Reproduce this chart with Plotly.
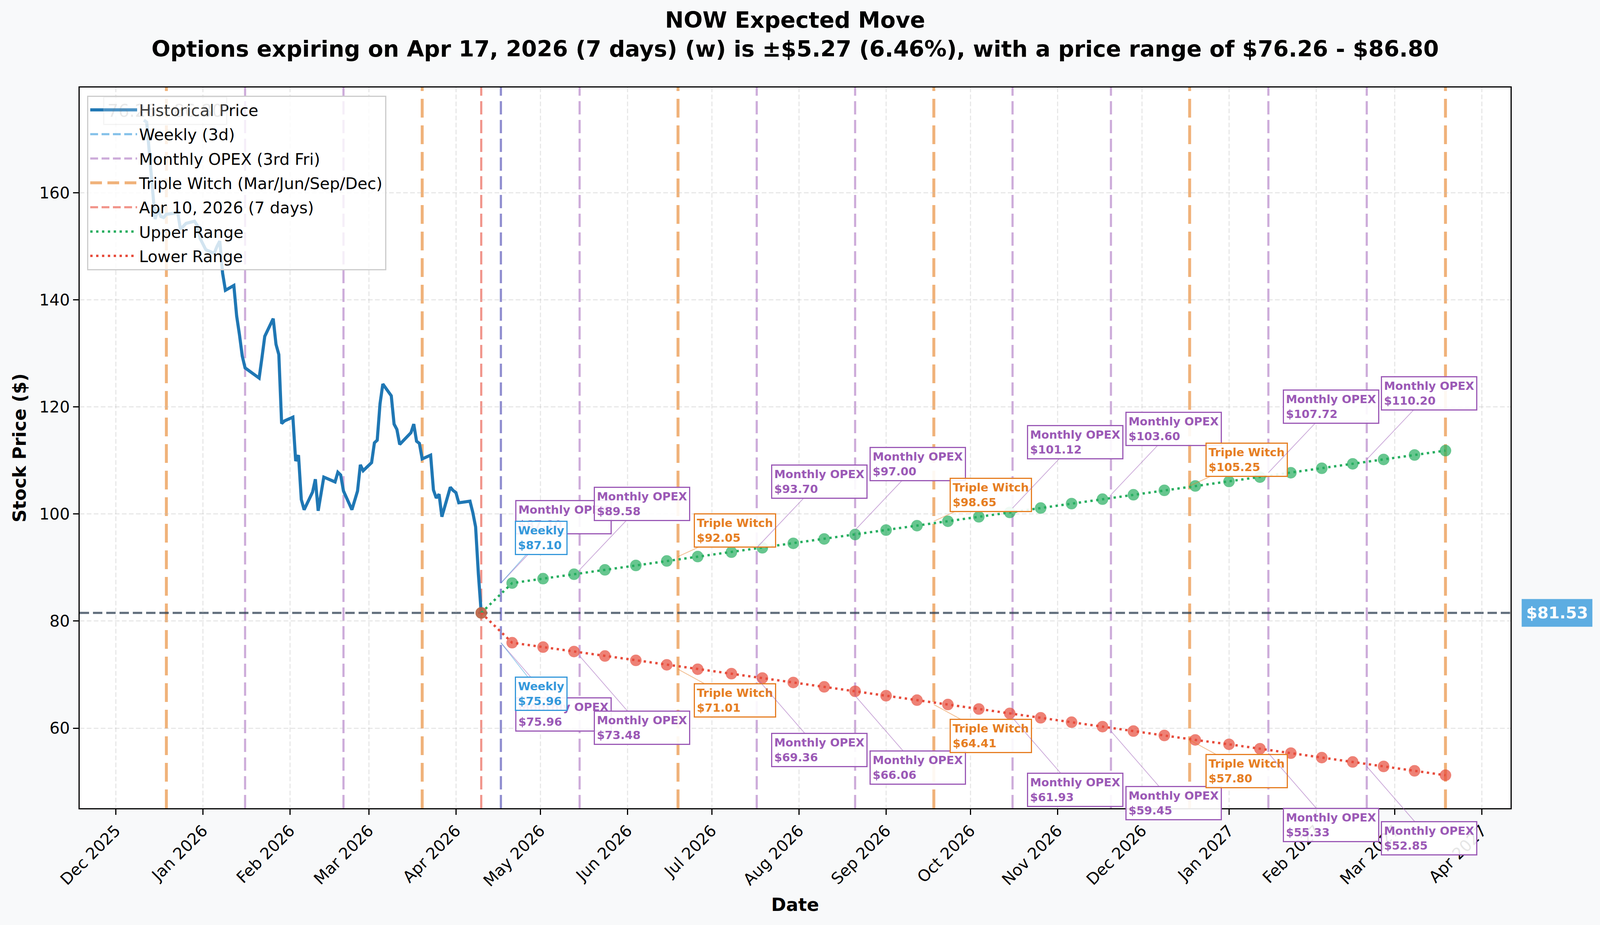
import pandas as pd
import plotly.graph_objects as go

# ---------------- data ----------------
ticker = "NOW"
current_price = 81.53
today = "2026-04-10"

hist_dates = [
    "2025-12-11", "2025-12-12", "2025-12-15", "2025-12-16", "2025-12-17", "2025-12-18",
    "2025-12-19", "2025-12-22", "2025-12-23", "2025-12-24", "2025-12-26", "2025-12-29",
    "2025-12-30", "2025-12-31", "2026-01-02", "2026-01-05", "2026-01-06", "2026-01-07",
    "2026-01-08", "2026-01-09", "2026-01-12", "2026-01-13", "2026-01-14", "2026-01-15",
    "2026-01-16", "2026-01-20", "2026-01-21", "2026-01-22", "2026-01-23", "2026-01-26",
    "2026-01-27", "2026-01-28", "2026-01-29", "2026-01-30", "2026-02-02", "2026-02-03",
    "2026-02-04", "2026-02-05", "2026-02-06", "2026-02-09", "2026-02-10", "2026-02-11",
    "2026-02-12", "2026-02-13", "2026-02-17", "2026-02-18", "2026-02-19", "2026-02-20",
    "2026-02-23", "2026-02-24", "2026-02-25", "2026-02-26", "2026-02-27", "2026-03-02",
    "2026-03-03", "2026-03-04", "2026-03-05", "2026-03-06", "2026-03-09", "2026-03-10",
    "2026-03-11", "2026-03-12", "2026-03-13", "2026-03-16", "2026-03-17", "2026-03-18",
    "2026-03-19", "2026-03-20", "2026-03-23", "2026-03-24", "2026-03-25", "2026-03-26",
    "2026-03-27", "2026-03-30", "2026-03-31", "2026-04-01", "2026-04-02", "2026-04-06",
    "2026-04-07", "2026-04-08", "2026-04-09", "2026-04-10",
]
hist_prices = [
    173.6, 173.2, 155.1, 157.0, 155.6, 155.4,
    156.0, 156.2, 156.5, 153.2, 154.3, 154.7,
    153.9, 151.5, 149.4, 148.7, 150.0, 151.0,
    145.0, 141.8, 142.7, 137.0, 133.5, 129.5,
    127.3, 125.8, 125.4, 129.2, 133.2, 136.5,
    131.7, 129.8, 116.9, 117.4, 118.1, 109.9,
    111.0, 102.7, 100.8, 104.1, 106.5, 100.6,
    104.0, 106.9, 106.0, 107.8, 107.3, 104.3,
    100.8, 102.8, 104.3, 109.2, 108.1, 109.6,
    113.3, 113.8, 120.6, 124.3, 122.1, 116.8,
    115.8, 113.0, 113.6, 115.2, 116.8, 113.6,
    113.2, 110.3, 111.0, 104.5, 103.0, 103.7,
    99.5, 105.0, 104.4, 104.0, 102.1, 102.4,
    100.3, 97.6, 88.7, 81.53,
]

range_dates = [
    "2026-04-10", "2026-04-21", "2026-05-02", "2026-05-13", "2026-05-24", "2026-06-04",
    "2026-06-15", "2026-06-26", "2026-07-08", "2026-07-19", "2026-07-30", "2026-08-10",
    "2026-08-21", "2026-09-01", "2026-09-12", "2026-09-23", "2026-10-04", "2026-10-15",
    "2026-10-26", "2026-11-06", "2026-11-17", "2026-11-28", "2026-12-09", "2026-12-20",
    "2027-01-01", "2027-01-12", "2027-01-23", "2027-02-03", "2027-02-14", "2027-02-25",
    "2027-03-08", "2027-03-19",
]
upper_range = [
    81.53, 87.10, 87.93, 88.75, 89.58, 90.40, 91.23, 92.05, 92.88, 93.70, 94.53, 95.35,
    96.18, 97.00, 97.83, 98.65, 99.48, 100.30, 101.12, 101.95, 102.78, 103.60, 104.43,
    105.25, 106.08, 106.90, 107.72, 108.55, 109.38, 110.20, 111.03, 111.85,
]
lower_range = [
    81.53, 75.96, 75.14, 74.31, 73.48, 72.66, 71.83, 71.01, 70.18, 69.36, 68.53, 67.71,
    66.88, 66.06, 65.23, 64.41, 63.58, 62.76, 61.93, 61.11, 60.28, 59.45, 58.63,
    57.80, 56.98, 56.15, 55.33, 54.50, 53.68, 52.85, 52.03, 51.20,
]

weekly_dates = ["2026-04-17"]
monthly_dates = [
    "2026-01-16", "2026-02-20", "2026-04-17", "2026-05-15", "2026-07-17", "2026-08-21",
    "2026-10-16", "2026-11-20", "2027-01-15", "2027-02-19",
]
triple_witch_dates = [
    "2025-12-19", "2026-03-20", "2026-06-19", "2026-09-18", "2026-12-18", "2027-03-19",
]

# expiry labels on the range paths
label_dates = [
    "2026-04-17", "2026-05-15", "2026-06-19", "2026-07-17", "2026-08-21", "2026-09-18",
    "2026-10-16", "2026-11-20", "2026-12-18", "2027-01-15", "2027-02-19", "2026-04-17",
]
label_kinds = [
    "Monthly OPEX", "Monthly OPEX", "Triple Witch", "Monthly OPEX", "Monthly OPEX",
    "Triple Witch", "Monthly OPEX", "Monthly OPEX", "Triple Witch", "Monthly OPEX",
    "Monthly OPEX", "Weekly",
]
label_upper = [87.10, 89.58, 92.05, 93.70, 97.00, 98.65, 101.12, 103.60, 105.25, 107.72, 110.20, 87.10]
label_lower = [75.96, 73.48, 71.01, 69.36, 66.06, 64.41, 61.93, 59.45, 57.80, 55.33, 52.85, 75.96]

title_text = ("NOW Expected Move<br>Options expiring on Apr 17, 2026 (7 days) (w) is "
              "±$5.27 (6.46%), with a price range of $76.26 - $86.80")

# ---------------- styling ----------------
FONT = "DejaVu Sans"
BLUE = "#1f77b4"
WEEKLY = "rgba(52,152,219,0.6)"
MONTHLY = "rgba(155,89,182,0.5)"
TRIPLE = "rgba(230,126,34,0.6)"
TODAY = "rgba(231,76,60,0.6)"
GREEN = "#27ae60"
RED = "#e74c3c"

kind_style = {
    # text color, connector color, (dx, dy_up, dy_down) in px
    "Monthly OPEX": ("#9b59b6", "rgba(155,89,182,0.5)", (160, -169, 184)),
    "Triple Witch": ("#e67e22", "rgba(230,126,34,0.5)", (146, -67, 80)),
    "Weekly": ("#3498db", "rgba(52,152,219,0.5)", (103, -116, 131)),
}

fig = go.Figure()

# historical
fig.add_trace(go.Scatter(
    x=pd.to_datetime(hist_dates), y=hist_prices, mode="lines",
    name="Historical Price", line=dict(color=BLUE, width=8),
    legendgroup="a", legendrank=1,
))

# legend entries for the vertical lines (the lines themselves are shapes)
for name, col, w, dash, grp, rank in [
    ("Weekly (3d)", WEEKLY, 5.5, "20px,9px", "b", 2),
    ("Monthly OPEX (3rd Fri)", MONTHLY, 5.5, "20px,9px", "c", 3),
    ("Triple Witch (Mar/Jun/Sep/Dec)", TRIPLE, 7.5, "30px,14px", "d", 4),
    ("Apr 10, 2026 (7 days)", TODAY, 5.5, "20px,9px", "e", 5),
]:
    fig.add_trace(go.Scatter(x=[None], y=[None], mode="lines", name=name,
                             line=dict(color=col, width=w, dash=dash),
                             legendgroup=grp, legendrank=rank))

# range markers (under the dotted lines)
for vals, col in [(upper_range, GREEN), (lower_range, RED)]:
    fig.add_trace(go.Scatter(
        x=pd.to_datetime(range_dates), y=vals, mode="markers", showlegend=False,
        marker=dict(size=27, color=col, opacity=0.7, line=dict(color=col, width=2.5)),
        hoverinfo="skip",
    ))
fig.add_trace(go.Scatter(
    x=pd.to_datetime(range_dates), y=upper_range, mode="lines", name="Upper Range",
    line=dict(color=GREEN, width=6, dash="6px,9px"), legendgroup="f", legendrank=6,
))
fig.add_trace(go.Scatter(
    x=pd.to_datetime(range_dates), y=lower_range, mode="lines", name="Lower Range",
    line=dict(color=RED, width=6, dash="6px,9px"), legendgroup="g", legendrank=7,
))

# vertical event lines
def vline(d, col, w, dash):
    fig.add_shape(type="line", xref="x", yref="paper", x0=d, x1=d, y0=0, y1=1,
                  line=dict(color=col, width=w, dash=dash), layer="between")

for d in triple_witch_dates:
    vline(d, TRIPLE, 7.5, "48px,20px")
for d in weekly_dates:
    vline(d, WEEKLY, 5.5, "34px,14px")
for d in monthly_dates:
    vline(d, MONTHLY, 5.5, "34px,14px")
vline(today, TODAY, 5.5, "34px,14px")

# current price line
fig.add_shape(type="line", xref="paper", yref="y", x0=0, x1=1,
              y0=current_price, y1=current_price,
              line=dict(color="rgba(44,62,80,0.75)", width=5.5, dash="24px,10px"),
              layer="between")

# faint range box behind the legend
fig.add_annotation(xref="paper", yref="paper", x=0.0163, y=0.9875,
                   xanchor="left", yanchor="top", showarrow=False,
                   text="76.26 - 86.80",
                   font=dict(family=FONT, size=44, color="rgba(120,120,120,0.18)"),
                   bgcolor="rgba(255,255,255,0.2)", bordercolor="rgba(200,200,200,0.2)",
                   borderwidth=3, borderpad=8)

# expiry labels
for d, kind, up, lo in zip(label_dates, label_kinds, label_upper, label_lower):
    tcol, acol, (dx, dyu, dyd) = kind_style[kind]
    for val, dy in [(up, dyu), (lo, dyd)]:
        fig.add_annotation(
            x=pd.to_datetime(d), y=val, xref="x", yref="y",
            text=f"{kind}<br>${val:.2f}", align="left",
            showarrow=True, arrowhead=0, arrowwidth=2, arrowcolor=acol,
            ax=dx, ay=dy, standoff=0,
            font=dict(family=FONT, size=29, color=tcol, weight="bold"),
            bgcolor="rgba(255,255,255,0.9)", bordercolor=tcol,
            borderwidth=3, borderpad=5,
        )

# current price tag on the right
fig.add_annotation(xref="paper", yref="y", x=1, y=current_price,
                   xanchor="left", yanchor="middle", xshift=28, showarrow=False,
                   text=f"${current_price:.2f}",
                   font=dict(family=FONT, size=41, color="white", weight="bold"),
                   bgcolor="#5dade2", borderpad=11)

fig.update_layout(
    template="none",
    autosize=True,
    paper_bgcolor="#f8f9fa", plot_bgcolor="white",
    margin=dict(l=204, r=229, t=224, b=299, autoexpand=False),
    title=dict(text=title_text, x=0.5, xref="paper", xanchor="center",
               y=1 - 71 / 2368, yref="container", yanchor="middle",
               font=dict(family=FONT, size=57, color="black", weight="bold")),
    font=dict(family=FONT, color="black"),
    showlegend=True,
    legend=dict(x=0.0052, y=0.9886, xanchor="left", yanchor="top",
                bgcolor="rgba(255,255,255,0.8)", bordercolor="#cccccc", borderwidth=3,
                font=dict(family=FONT, size=41, color="black"),
                traceorder="grouped", tracegroupgap=6, itemwidth=120),
    xaxis=dict(
        type="date", range=["2025-11-18 03:55", "2027-04-11 03:36"],
        tick0="2025-12-01", dtick="M1", tickformat="%b %Y", tickangle=-45,
        tickfont=dict(family=FONT, size=41), ticks="outside", ticklen=14, tickwidth=3,
        tickcolor="black",
        showgrid=True, gridcolor="rgba(190,190,190,0.35)", gridwidth=3, griddash="12px,6px",
        showline=True, linecolor="black", linewidth=3, mirror=True, zeroline=False,
        automargin=False,
        title=dict(text="Date", standoff=22,
                   font=dict(family=FONT, size=46, weight="bold")),
    ),
    yaxis=dict(
        range=[45.04, 179.69], tick0=60, dtick=20,
        tickfont=dict(family=FONT, size=41), ticks="outside", ticklen=14, tickwidth=3,
        tickcolor="black",
        showgrid=True, gridcolor="rgba(190,190,190,0.35)", gridwidth=3, griddash="12px,6px",
        showline=True, linecolor="black", linewidth=3, mirror=True, zeroline=False,
        automargin=False,
        title=dict(text="Stock Price ($)", standoff=20,
                   font=dict(family=FONT, size=46, weight="bold")),
    ),
)

fig.write_html(
    "out.html",
    config={"displayModeBar": False, "responsive": True},
    default_width="100vw", default_height="100vh",
    post_script=("document.body.style.margin='0';"
                 "document.body.style.overflow='hidden';"
                 "Plotly.Plots.resize(document.getElementById('{plot_id}'));"),
)
